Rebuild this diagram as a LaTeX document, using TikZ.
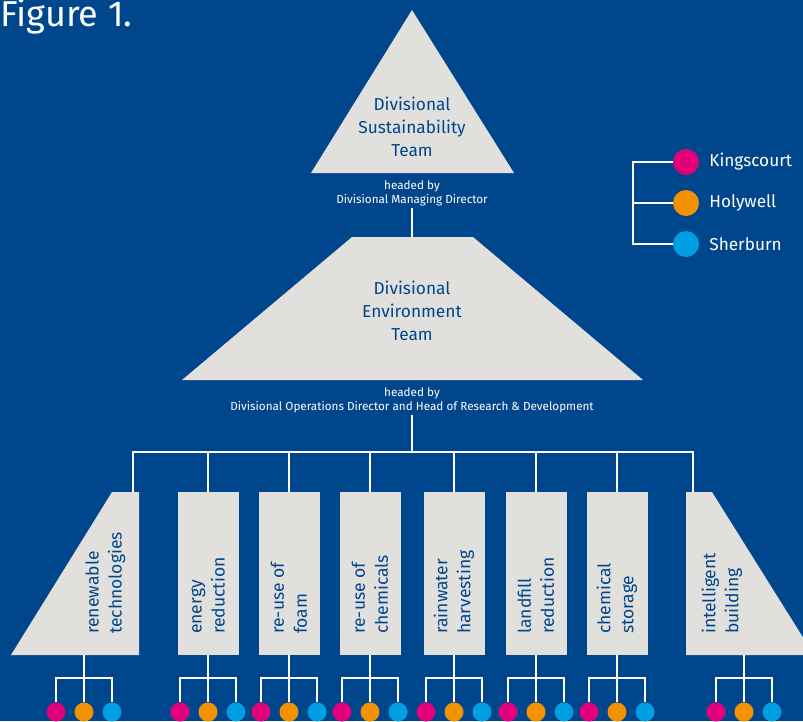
\documentclass[tikz,border=0pt]{standalone}
\usepackage{fontspec}
\setmainfont{Fira Sans}
\usetikzlibrary{positioning}

\definecolor{bgblue}{RGB}{0,70,140}
\definecolor{boxgrey}{RGB}{225,224,221}
\definecolor{kingpink}{RGB}{226,0,122}
\definecolor{holyorange}{RGB}{243,146,0}
\definecolor{sherblue}{RGB}{0,159,227}

\tikzset{
    link/.style={draw=white, line width=2pt},
    team/.style={text=bgblue, align=center, font=\fontsize{17.3}{23}\selectfont},
    headed/.style={text=white, align=center, inner sep=2pt, font=\fontsize{11.7}{14}\selectfont},
    topic/.style={fill=boxgrey, minimum width=61pt, minimum height=163pt, inner sep=0pt},
    topictext/.style={text=bgblue, rotate=90, anchor=west, align=left, inner sep=0pt,
        font=\fontsize{17.5}{23}\selectfont},
    site/.style={circle, minimum size=19pt, inner sep=0pt},
    key/.style={site, minimum size=26pt},
    keytext/.style={text=white, inner sep=0pt, font=\fontsize{17.2}{20}\selectfont}
}

\begin{document}
\begin{tikzpicture}[x=1pt, y=-1pt]
        \fill[bgblue] (0,0) rectangle (803,721);
        \useasboundingbox (0,0) rectangle (803,721);
        \node[text=white, anchor=base west, inner sep=0pt, font=\fontsize{36}{38}\selectfont] (fig) at (0,26) {Figure 1.};

        % pyramid
        \fill[boxgrey] (412,10) -- (514,173) -- (311,173) -- cycle;
        \node[team] (sust) at (412,127) {Divisional\\Sustainability\\Team};
        \node[headed] (mdhead) at (412,193) {headed by\\Divisional Managing Director};
        \fill[boxgrey] (352,237) -- (473,237) -- (643,380) -- (182,380) -- cycle;
        \coordinate (envtop) at (412,237);
        \node[team] (env) at (412,311) {Divisional\\Environment\\Team};
        \node[headed] (ophead) at (412,400) {headed by\\Divisional Operations Director and Head of Research \& Development};
        \coordinate (hub) at (412,452);
        \draw[link] (mdhead) -- (envtop);
        \draw[link] (ophead) -- (hub);

        % working groups
        \fill[boxgrey] (112,492) -- (139,492) -- (139,655) -- (11,655) -- cycle;
        \coordinate (renew-top) at (133,492);
        \coordinate (renew-foot) at (84,655);
        \node[topictext] (renew-txt) at (105.5,634) {renewable\\technologies};
        \fill[boxgrey] (686,492) -- (712,492) -- (814,655) -- (686,655) -- cycle;
        \coordinate (intel-top) at (693,492);
        \coordinate (intel-foot) at (744,655);
        \node[topictext] (intel-txt) at (722,634) {intelligent\\building};
        \draw[link] (renew-top) |- (hub) -| (intel-top);

        \foreach \name/\x/\txt in {energy/208/{energy\\reduction}, foam/289/{re-use of\\foam},
                chem/370/{re-use of\\chemicals}, rain/454/{rainwater\\harvesting},
                fill/536/{landfill\\reduction}, store/617/{chemical\\storage}} {
            \node[topic] (\name) at (\x,573.5) {};
            \node[topictext] (\name-txt) at (\x,634) {\txt};
            \coordinate (\name-foot) at (\name.south);
            \draw[link] (\name.north) -- (\name.north |- hub);
        }

        % sites under each group
        \foreach \name/\x in {renew/84, energy/208, foam/289, chem/370, rain/454, fill/536, store/617, intel/744} {
            \node[site, fill=kingpink] (\name-k) at (\x-28,712) {};
            \node[site, fill=holyorange] (\name-h) at (\x,712) {};
            \node[site, fill=sherblue] (\name-s) at (\x+28,712) {};
            \coordinate (\name-bar) at (\x,678);
            \draw[link] (\name-foot) -- (\name-h.north);
            \draw[link] (\name-k.north) |- (\name-bar) -| (\name-s.north);
        }

        % key
        \node[key, fill=kingpink] (kdot) at (686,162) {};
        \node[key, fill=holyorange] (hdot) at (686,203) {};
        \node[key, fill=sherblue] (sdot) at (686,244) {};
        \node[keytext, right=10pt of kdot] (ktext) {Kingscourt};
        \node[keytext, right=10pt of hdot] (htext) {Holywell};
        \node[keytext, right=10pt of sdot] (stext) {Sherburn};
        \coordinate (spine) at (633,203);
        \draw[link] (kdot.west) -| (spine) |- (sdot.west);
        \draw[link] (hdot.west) -- (spine);
\end{tikzpicture}
\end{document}
